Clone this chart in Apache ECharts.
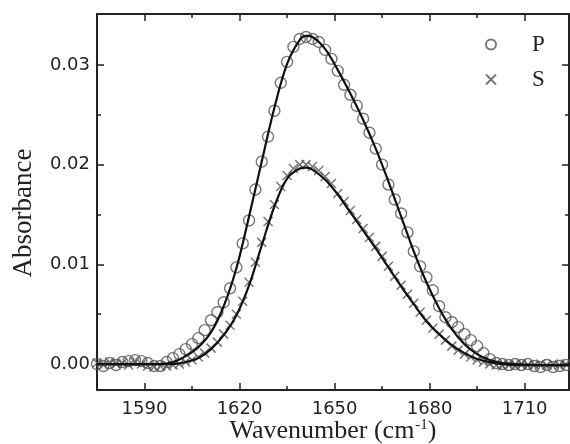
<!DOCTYPE html>
<html><head><meta charset="utf-8">
<script src="https://cdn.jsdelivr.net/npm/echarts@6/dist/echarts.min.js"></script>
<style>html,body{margin:0;padding:0;background:#fff}#c{width:570px;height:444px}</style>
</head><body><div id="c"></div>
<script>
// ---- data ----
const wavenumber = [1575,1577,1579,1581,1583,1585,1587,1589,1591,1593,1595,1597,1599,1601,1603,1605,1607,1609,1611,1613,1615,1617,1619,1621,1623,1625,1627,1629,1631,1633,1635,1637,1639,1641,1643,1645,1647,1649,1651,1653,1655,1657,1659,1661,1663,1665,1667,1669,1671,1673,1675,1677,1679,1681,1683,1685,1687,1689,1691,1693,1695,1697,1699,1701,1703,1705,1707,1709,1711,1713,1715,1717,1719,1721,1723];
const absP = [0.0000,-0.0002,0.0001,-0.0001,0.0002,0.0003,0.0004,0.0003,0.0001,-0.0002,-0.0002,0.0002,0.0006,0.0010,0.0015,0.0020,0.0026,0.0034,0.0044,0.0052,0.0062,0.0076,0.0097,0.0121,0.0144,0.0175,0.0203,0.0228,0.0254,0.0282,0.0303,0.0318,0.0326,0.0328,0.0326,0.0323,0.0315,0.0306,0.0294,0.0280,0.0270,0.0259,0.0246,0.0232,0.0216,0.0200,0.0180,0.0165,0.0151,0.0132,0.0113,0.0098,0.0087,0.0074,0.0058,0.0047,0.0042,0.0037,0.0030,0.0024,0.0018,0.0011,0.0005,0.0001,0.0000,-0.0001,0.0000,-0.0001,0.0000,-0.0002,-0.0003,-0.0001,-0.0003,-0.0002,-0.0001];
const absS = [0.0001,-0.0001,0.0002,0.0000,0.0001,-0.0001,0.0002,0.0000,-0.0002,-0.0003,-0.0002,-0.0002,-0.0001,0.0000,0.0002,0.0004,0.0007,0.0011,0.0016,0.0022,0.0030,0.0039,0.0050,0.0063,0.0082,0.0102,0.0122,0.0143,0.0160,0.0178,0.0189,0.0196,0.0200,0.0200,0.0198,0.0194,0.0188,0.0181,0.0171,0.0163,0.0154,0.0145,0.0136,0.0127,0.0118,0.0108,0.0098,0.0088,0.0079,0.0070,0.0061,0.0052,0.0044,0.0036,0.0030,0.0024,0.0018,0.0014,0.0010,0.0007,0.0004,0.0002,0.0000,-0.0001,-0.0002,-0.0001,-0.0002,0.0000,-0.0001,-0.0001,0.0000,-0.0001,0.0000,-0.0001,0.0000];
const fitWavenumber = [1575,1585,1595,1599,1603,1607,1611,1615,1619,1623,1627,1631,1635,1639,1641,1643,1647,1651,1655,1659,1663,1667,1671,1675,1679,1683,1687,1691,1695,1699,1703,1707,1715,1724];
const fitP = [0,0,0,0.0002,0.0008,0.0017,0.0032,0.0058,0.0096,0.0148,0.0203,0.0257,0.0301,0.0325,0.0329,0.0328,0.0316,0.0295,0.0271,0.0245,0.0216,0.0183,0.0148,0.0113,0.0082,0.0056,0.0035,0.0020,0.0010,0.0004,0.0001,0,-0.0001,-0.0001];
const fitS = [0,0,0,0,0.0002,0.0006,0.0015,0.0029,0.0049,0.0079,0.0119,0.0158,0.0186,0.0196,0.0197,0.0195,0.0185,0.0170,0.0152,0.0134,0.0116,0.0097,0.0078,0.0060,0.0043,0.0030,0.0019,0.0011,0.0005,0.0002,0,-0.0001,-0.0001,-0.0001];
const xMajorTicks = [1590,1620,1650,1680,1710];
const xMinorTicks = [1605,1635,1665,1695];
const yMajorTicks = [0,0.01,0.02,0.03];
const yMinorTicks = [0.005,0.015,0.025];
const seriesNames = ['P','S'];
const xTitle = 'Wavenumber (cm{sup|-1})';
const yTitle = 'Absorbance';

// ---- chart ----
const X_MIN = 1575, X_MAX = 1724, Y_MIN = -0.0026, Y_MAX = 0.0351;
const AX = '#222';
const SANS = '"DejaVu Sans", "Liberation Sans", sans-serif';
const SERIF = '"Liberation Serif", "Times New Roman", serif';

function xAx(pos, ticks, len, line, label) {
  const a = {
    type: 'value', position: pos, min: X_MIN, max: X_MAX,
    splitLine: {show: false},
    axisLine: {show: line, onZero: false, lineStyle: {color: AX, width: 2}},
    axisTick: {show: true, inside: true, length: len, customValues: ticks, lineStyle: {color: AX, width: 1.5}},
    axisLabel: {show: label}
  };
  if (label) {
    a.axisLabel = {show: true, customValues: ticks, fontFamily: SANS, fontSize: 18, color: AX, margin: 10,
      formatter: v => String(v)};
    a.name = xTitle; a.nameLocation = 'middle'; a.nameGap = 28; a.nameMoveOverlap = false;
    a.nameTextStyle = {fontFamily: SERIF, fontSize: 26, color: AX,
      rich: {sup: {fontFamily: SERIF, fontSize: 15, color: AX, verticalAlign: 'top', padding: [0, 0, 10, 1]}}};
  }
  return a;
}
function yAx(pos, ticks, len, line, label) {
  const a = {
    type: 'value', position: pos, min: Y_MIN, max: Y_MAX,
    splitLine: {show: false},
    axisLine: {show: line, onZero: false, lineStyle: {color: AX, width: 2}},
    axisTick: {show: true, inside: true, length: len, customValues: ticks, lineStyle: {color: AX, width: 1.5}},
    axisLabel: {show: label}
  };
  if (label) {
    a.axisLabel = {show: true, customValues: ticks, fontFamily: SANS, fontSize: 18, color: AX, margin: 7,
      formatter: v => v.toFixed(2)};
    a.name = yTitle; a.nameLocation = 'middle'; a.nameGap = 60; a.nameMoveOverlap = false;
    a.nameTextStyle = {fontFamily: SERIF, fontSize: 27, color: AX, padding: [0, 22, 0, 0]};
  }
  return a;
}

const chart = echarts.init(document.getElementById('c'), null, {renderer: 'canvas'});
chart.setOption({
  animation: false,
  backgroundColor: '#fff',
  grid: {left: 97, top: 14, right: 1, bottom: 54, containLabel: false, outerBoundsMode: 'none'},
  xAxis: [
    xAx('bottom', xMajorTicks, 7, true, true),
    xAx('bottom', xMinorTicks, 4, false, false),
    xAx('top', xMajorTicks, 7, true, false),
    xAx('top', xMinorTicks, 4, false, false)
  ],
  yAxis: [
    yAx('left', yMajorTicks, 7, true, true),
    yAx('left', yMinorTicks, 4, false, false),
    yAx('right', yMajorTicks, 7, true, false),
    yAx('right', yMinorTicks, 4, false, false)
  ],
  legend: {
    data: seriesNames, orient: 'vertical', left: 480, top: 28,
    itemWidth: 10, itemHeight: 10, itemGap: 12, selectedMode: false,
    textStyle: {fontFamily: SERIF, fontSize: 23, color: AX, padding: [0, 0, 0, 31]}
  },
  series: [
    {name: seriesNames[0], type: 'scatter', xAxisIndex: 0, yAxisIndex: 0,
     data: wavenumber.map((w, i) => [w, absP[i]]),
     symbol: 'circle', symbolSize: 11,
     itemStyle: {color: 'rgba(0,0,0,0)', borderColor: '#555', borderWidth: 1.4}, z: 2},
    {name: seriesNames[1], type: 'scatter', xAxisIndex: 0, yAxisIndex: 0,
     data: wavenumber.map((w, i) => [w, absS[i]]),
     symbol: 'path://M0,0L10,10M10,0L0,10', symbolSize: 9,
     itemStyle: {color: 'rgba(0,0,0,0)', borderColor: '#555', borderWidth: 1.5}, z: 2},
    {name: 'fitP', type: 'line', xAxisIndex: 0, yAxisIndex: 0,
     data: fitWavenumber.map((w, i) => [w, fitP[i]]),
     showSymbol: false, smooth: 0.35, lineStyle: {color: '#111', width: 2.2}, z: 3, silent: true},
    {name: 'fitS', type: 'line', xAxisIndex: 0, yAxisIndex: 0,
     data: fitWavenumber.map((w, i) => [w, fitS[i]]),
     showSymbol: false, smooth: 0.35, lineStyle: {color: '#111', width: 2.2}, z: 3, silent: true}
  ]
});
</script>
</body></html>
